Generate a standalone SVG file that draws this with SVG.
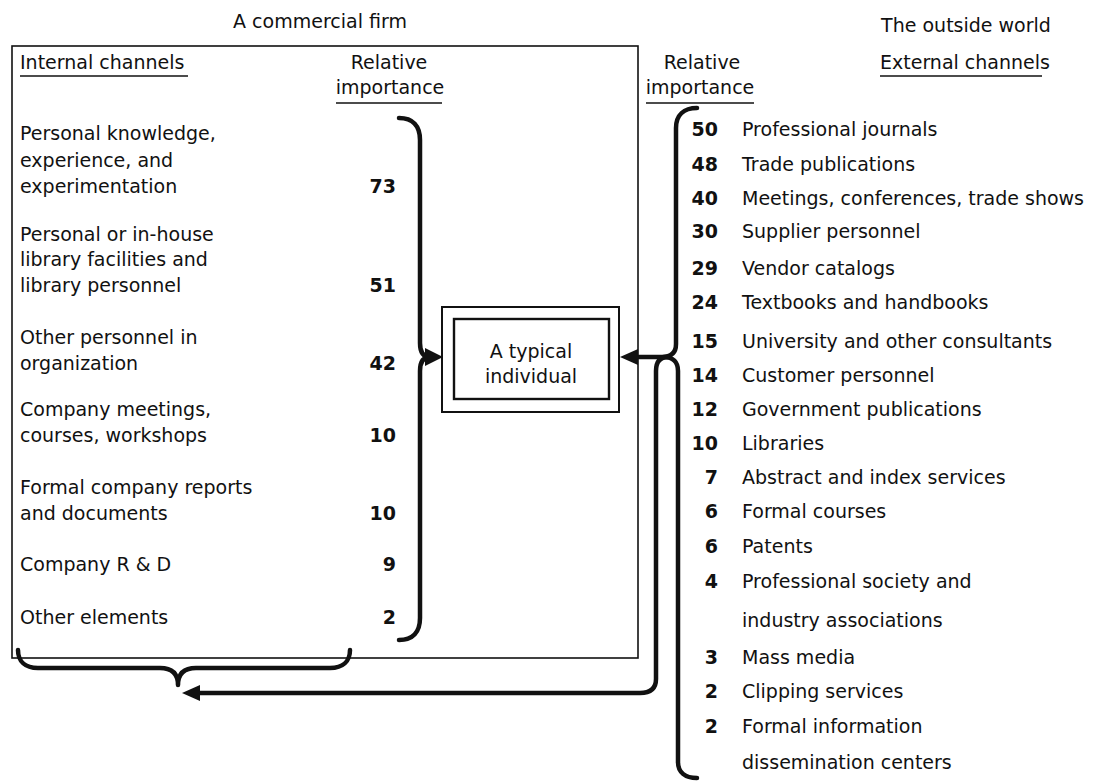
<svg xmlns="http://www.w3.org/2000/svg" width="1093" height="783" viewBox="0 0 1093 783">
  <style>
    text { font-family: "DejaVu Sans", "Liberation Sans", sans-serif; font-size: 19px; fill: #111; }
    .num { font-weight: bold; text-anchor: end; }
    .mid { text-anchor: middle; }
    .frame { fill: none; stroke: #111; stroke-width: 1.6; }
    .rule { stroke: #111; stroke-width: 1.4; }
    .heavy { fill: none; stroke: #111; stroke-width: 4.5; stroke-linecap: round; stroke-linejoin: round; }
    .head { fill: #111; }
  </style>

  <rect width="1093" height="783" fill="#fff"/>

  <!-- the firm boundary and its column headings -->
  <g id="firm">
    <text class="mid" x="320" y="28">A commercial firm</text>
    <rect class="frame" x="12" y="46" width="626" height="612"/>
    <text x="20" y="69">Internal channels</text>
    <line class="rule" x1="20" y1="76" x2="188" y2="76"/>
    <text class="mid" x="389" y="69">Relative</text>
    <text class="mid" x="390" y="94">importance</text>
    <line class="rule" x1="336" y1="103" x2="442" y2="103"/>
  </g>

  <!-- internal channels with their weights -->
  <g id="internal-channels">
    <text x="20" y="140">Personal knowledge,</text>
    <text x="20" y="167">experience, and</text>
    <text x="20" y="193">experimentation</text>
    <text class="num" x="396" y="193">73</text>

    <text x="20" y="241">Personal or in-house</text>
    <text x="20" y="266">library facilities and</text>
    <text x="20" y="292">library personnel</text>
    <text class="num" x="396" y="292">51</text>

    <text x="20" y="344">Other  personnel in</text>
    <text x="20" y="370">organization</text>
    <text class="num" x="396" y="370">42</text>

    <text x="20" y="416">Company meetings,</text>
    <text x="20" y="442">courses, workshops</text>
    <text class="num" x="396" y="442">10</text>

    <text x="20" y="494">Formal company reports</text>
    <text x="20" y="520">and documents</text>
    <text class="num" x="396" y="520">10</text>

    <text x="20" y="571">Company R &amp; D</text>
    <text class="num" x="396" y="571">9</text>

    <text x="20" y="624">Other elements</text>
    <text class="num" x="396" y="624">2</text>
  </g>

  <!-- the individual at the centre -->
  <g id="individual">
    <rect x="442" y="307" width="177" height="105" fill="#fff" stroke="#111" stroke-width="2"/>
    <rect x="454" y="319" width="155" height="80" fill="none" stroke="#111" stroke-width="2.4"/>
    <text class="mid" x="531" y="358">A typical</text>
    <text class="mid" x="531" y="383">individual</text>
  </g>

  <!-- outside world headings -->
  <g id="outside-world">
    <text class="mid" x="966" y="32">The outside world</text>
    <text class="mid" x="702" y="69">Relative</text>
    <text class="mid" x="700" y="94">importance</text>
    <line class="rule" x1="646" y1="103" x2="754" y2="103"/>
    <text x="880" y="69">External channels</text>
    <line class="rule" x1="880" y1="76" x2="1042" y2="76"/>
  </g>

  <!-- external channels with their weights -->
  <g id="external-channels">
    <text class="num" x="718" y="136">50</text><text x="742" y="136">Professional journals</text>
    <text class="num" x="718" y="171">48</text><text x="742" y="171">Trade publications</text>
    <text class="num" x="718" y="205">40</text><text x="742" y="205">Meetings, conferences, trade shows</text>
    <text class="num" x="718" y="238">30</text><text x="742" y="238">Supplier  personnel</text>
    <text class="num" x="718" y="275">29</text><text x="742" y="275">Vendor catalogs</text>
    <text class="num" x="718" y="309">24</text><text x="742" y="309">Textbooks and handbooks</text>
    <text class="num" x="718" y="348">15</text><text x="742" y="348">University and  other consultants</text>
    <text class="num" x="718" y="382">14</text><text x="742" y="382">Customer personnel</text>
    <text class="num" x="718" y="416">12</text><text x="742" y="416">Government  publications</text>
    <text class="num" x="718" y="450">10</text><text x="742" y="450">Libraries</text>
    <text class="num" x="718" y="484">7</text><text x="742" y="484">Abstract and index services</text>
    <text class="num" x="718" y="518">6</text><text x="742" y="518">Formal courses</text>
    <text class="num" x="718" y="553">6</text><text x="742" y="553">Patents</text>
    <text class="num" x="718" y="588">4</text><text x="742" y="588">Professional society and</text>
    <text x="742" y="627">industry associations</text>
    <text class="num" x="718" y="664">3</text><text x="742" y="664">Mass media</text>
    <text class="num" x="718" y="698">2</text><text x="742" y="698">Clipping services</text>
    <text class="num" x="718" y="733">2</text><text x="742" y="733">Formal information</text>
    <text x="742" y="769">dissemination centers</text>
  </g>

  <!-- braces and flow arrows -->
  <g id="connectors">
    <!-- internal channels brace into the individual -->
    <path class="heavy" d="M 399 118 C 413 118 420 126 420 140 L 420 343 C 420 352 423 357 430 357 C 423 357 420 362 420 371 L 420 618 C 420 632 413 640 399 640"/>
    <polygon class="head" points="443,357 425,348 425,366"/>

    <!-- external channels bracket into the individual -->
    <path class="heavy" d="M 697 108 C 684 108 676 115 676 128 L 676 344 C 676 353 671 357 662 357 L 636 357"/>
    <polygon class="head" points="620,357 638,349 638,365"/>
    <path class="heavy" d="M 664 357 C 673 357 678 362 678 371 L 678 762 C 678 772 685 778 697 778"/>

    <!-- return path from the outside world back to the firm -->
    <path class="heavy" d="M 668 357 C 660 357 656 362 656 371 L 656 679 C 656 689 650 693 640 693 L 198 693"/>
    <polygon class="head" points="182,693 200,685 200,701"/>

    <!-- brace under the internal channels -->
    <path class="heavy" d="M 18 650 C 18 661 25 668 38 668 L 160 668 C 172 668 178 674 178 685 C 178 674 184 668 196 668 L 330 668 C 343 668 350 661 350 650"/>
  </g>
</svg>
